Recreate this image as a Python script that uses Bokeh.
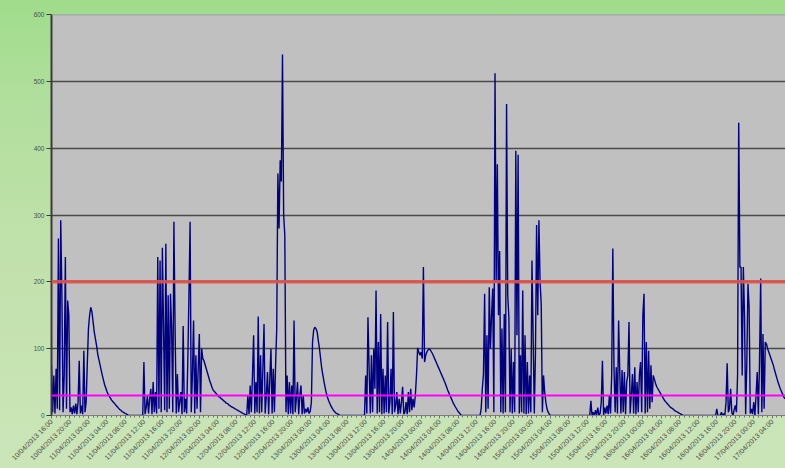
import math
from bokeh.plotting import figure
from bokeh.models import Range1d, FixedTicker, Span, Label
from bokeh.embed import file_html
from bokeh.resources import INLINE

# quarter-hourly CO2 readings (ppm)
PPM = [
    75, 5, 60, 3, 70, 10, 265, 8, 292, 180, 5, 60, 237, 10, 172, 150, 5, 12, 2, 15,
    3, 18, 2, 20, 82, 3, 15, 2, 97, 5, 20, 78, 130, 150, 162, 155, 140, 125, 115, 105,
    92, 84, 76, 68, 60, 53, 46, 41, 36, 32, 29, 26, 23, 21, 19, 17, 15, 13, 11, 9,
    8, 6, 5, 4, 3, 2,
    1, 0, 0, 0, 0, 0, 0, 0, 0, 0, 0, 0, 0, 0,
    80, 2, 12, 30, 3, 25, 40, 2, 50, 5, 35, 3, 237, 10, 232, 5, 251, 130, 8, 257,
    5, 180, 10, 182, 130, 5, 290, 130, 3, 62, 5, 20, 35, 2, 134, 5, 25, 3, 80, 180,
    290, 5, 60, 142, 3, 90, 10, 70, 122, 5, 100, 85, 82, 76, 70, 64, 58, 52, 47, 42,
    38, 36, 34, 32, 30, 28, 27, 25, 24, 22, 21, 19, 18, 17, 15, 14, 13, 12, 11, 10,
    9, 8, 7, 6, 5, 4, 3, 2, 1, 0,
    30, 2, 45, 5, 60, 120, 3, 50, 5, 148, 3, 90, 5, 70, 137, 3, 30, 65, 2, 55,
    100, 3, 70, 5, 75, 130, 362, 280, 382, 350, 540, 300, 270, 5, 60, 2, 50, 3, 45, 2,
    142, 5, 25, 50, 2, 30, 45, 2, 30, 3,
    10, 5, 12, 3, 6, 20, 110, 128, 132, 130, 125, 112, 100, 85, 70, 60, 50, 41, 33, 27,
    22, 18, 14, 11, 8, 6, 4, 3, 2, 1, 0,
    0, 0, 0, 0, 0, 0, 0, 0, 0, 0, 0, 0, 0, 0, 0, 0, 0, 0, 0, 0, 0,
    60, 3, 147, 70, 3, 90, 5, 100, 40, 187, 3, 110, 5, 152, 2, 70, 3, 60, 5, 140,
    3, 20, 70, 2, 155, 5, 15, 35, 2, 25, 3, 20, 43, 2, 5, 20, 2, 35, 5, 40,
    8, 25, 12, 30, 60, 101, 95, 90,
    95, 85, 222, 80, 90, 95, 98, 100, 98, 95, 92, 88, 84, 80, 76, 72, 68, 64, 60, 56,
    52, 48, 43, 38, 34, 30, 26, 22, 18, 15, 12, 9, 6, 4, 2, 0,
    0, 0, 0, 0, 0, 0, 0, 0, 0, 0, 0, 0, 0, 0, 0, 0,
    10, 40, 62, 182, 5, 120, 10, 192, 100, 150, 190, 5, 512, 200, 376, 150, 246, 5, 130, 3,
    152, 5, 466, 180, 147, 5, 100, 3, 80, 5, 396, 120, 390, 3, 90, 5, 187, 3, 120, 2,
    80, 3, 60, 5, 232, 120, 3, 90, 285, 150, 292, 200, 167, 5, 60, 35, 20, 10, 5, 2,
    0, 0, 0, 0, 0, 0, 0, 0, 0, 0, 0, 0, 0, 0, 0, 0, 0, 0, 0, 0,
    0, 0, 0, 0, 0, 0, 0, 0, 0, 0, 0, 0, 0, 0, 0, 22, 0, 5,
    0, 8, 0, 12, 0, 3, 20, 82, 0, 12, 3, 15, 2, 30, 3, 60, 250, 72, 5, 72,
    3, 142, 65, 3, 68, 5, 65, 2, 50, 60, 140, 3, 30, 62, 3, 72, 2, 50, 5, 60,
    80, 5, 150, 182, 3, 110, 5, 97, 10, 75, 20, 60, 54, 48, 43, 40, 37, 34, 31, 28,
    25, 22, 20, 18, 16, 14, 12, 11, 10, 8, 7, 6, 5, 4, 3, 2, 1, 0, 0, 0,
    0, 0, 0, 0, 0, 0, 0, 0, 0, 0, 0, 0, 0, 0, 0, 0, 0, 0, 0, 0, 0, 0, 0, 0, 0,
    0, 10, 0,
    0, 0, 5, 0, 3, 0, 20, 78, 5, 10, 40, 5, 0, 8, 15, 5, 60, 438, 222, 222, 60, 222,
    150, 2, 80, 197, 162, 3, 10, 2, 20, 0, 30, 65, 2, 80, 205, 5, 122, 10, 110, 107,
    100, 95, 90, 85, 80, 75, 68, 62, 56, 50, 45, 40, 36, 32, 28, 25,
]

TICK_LABELS = [
    "10/04/2013 16:00", "10/04/2013 20:00",
    "11/04/2013 00:00", "11/04/2013 04:00", "11/04/2013 08:00",
    "11/04/2013 12:00", "11/04/2013 16:00", "11/04/2013 20:00",
    "12/04/2013 00:00", "12/04/2013 04:00", "12/04/2013 08:00",
    "12/04/2013 12:00", "12/04/2013 16:00", "12/04/2013 20:00",
    "13/04/2013 00:00", "13/04/2013 04:00", "13/04/2013 08:00",
    "13/04/2013 12:00", "13/04/2013 16:00", "13/04/2013 20:00",
    "14/04/2013 00:00", "14/04/2013 04:00", "14/04/2013 08:00",
    "14/04/2013 12:00", "14/04/2013 16:00", "14/04/2013 20:00",
    "15/04/2013 00:00", "15/04/2013 04:00", "15/04/2013 08:00",
    "15/04/2013 12:00", "15/04/2013 16:00", "15/04/2013 20:00",
    "16/04/2013 00:00", "16/04/2013 04:00", "16/04/2013 08:00",
    "16/04/2013 12:00", "16/04/2013 16:00", "16/04/2013 20:00",
    "17/04/2013 00:00", "17/04/2013 04:00",
]

Y_TICKS = [0, 100, 200, 300, 400, 500, 600]
LIMIT_HIGH = 200
LIMIT_LOW = 30
SAMPLES_PER_LABEL = 16  # quarter-hour samples between labels (4 h)
SAMPLES_PER_MINOR = 4   # hourly tick marks

x = list(range(len(PPM)))
tick_pos = [SAMPLES_PER_LABEL * k for k in range(len(TICK_LABELS))]
minor_pos = list(range(0, len(PPM), SAMPLES_PER_MINOR))

FONT = "Liberation Sans"

p = figure(width=785, height=468, output_backend="svg", toolbar_location=None,
           x_range=Range1d(0, 635.5), y_range=Range1d(0, 600),
           min_border_left=51, min_border_right=0, min_border_top=14,
           min_border_bottom=53)
p.border_fill_color = None
p.background_fill_color = "#c0c0c0"
p.outline_line_color = None

p.xgrid.visible = False
p.ygrid.ticker = FixedTicker(ticks=Y_TICKS[1:-1])
p.ygrid.grid_line_color = "#4a4a4a"
p.ygrid.grid_line_width = 1.5

# top edge of the plot area
p.add_layout(Span(location=Y_TICKS[-1], dimension="width", line_color="#939393",
                  line_width=1.5))

p.line(x, PPM, line_color="#000080", line_width=1.4)

p.add_layout(Span(location=LIMIT_HIGH, dimension="width", line_color="#e0554d",
                  line_width=3.5, line_alpha=0.9))
p.add_layout(Span(location=LIMIT_LOW, dimension="width", line_color="#ff00ff",
                  line_width=2))

# y axis
ya = p.yaxis[0]
ya.ticker = FixedTicker(ticks=Y_TICKS)
ya.axis_line_color = "#3a3a3a"
ya.axis_line_width = 2
ya.major_tick_line_color = "#3a3a3a"
ya.major_tick_out = 5
ya.major_tick_in = 0
ya.minor_tick_line_color = None
ya.major_label_text_font = FONT
ya.major_label_text_font_size = "6.5px"
ya.major_label_text_color = "#505050"
ya.major_label_standoff = 2

# x axis
xa = p.xaxis[0]
xa.ticker = FixedTicker(ticks=tick_pos, minor_ticks=minor_pos)
xa.major_label_overrides = {t: lab for t, lab in zip(tick_pos, TICK_LABELS)}
xa.major_label_orientation = math.pi / 4
xa.axis_line_color = "#808080"
xa.axis_line_width = 1
xa.major_tick_line_color = "#707070"
xa.major_tick_out = 3
xa.major_tick_in = 0
xa.minor_tick_line_color = "#707070"
xa.minor_tick_out = 2
xa.minor_tick_in = 0
xa.major_label_text_font = FONT
xa.major_label_text_font_size = "7px"
xa.major_label_text_color = "#4a4a4a"
xa.major_label_standoff = 2

p.add_layout(Label(x=-28.6, y=236, text="ppm", angle=math.pi / 2,
                   text_font=FONT, text_font_size="10px", text_font_style="bold",
                   text_align="center", text_baseline="middle", text_color="#1a1a1a"))

html = file_html(p, INLINE)
css = ("<style>html{min-height:100%;background:linear-gradient(180deg,"
       "#a0dc8c 0%,#b3df9e 25%,#c1e1ac 55%,#cbe5b8 100%);}</style>")
html = html.replace("</head>", css + "</head>", 1)
open("out.html", "w").write(html)
